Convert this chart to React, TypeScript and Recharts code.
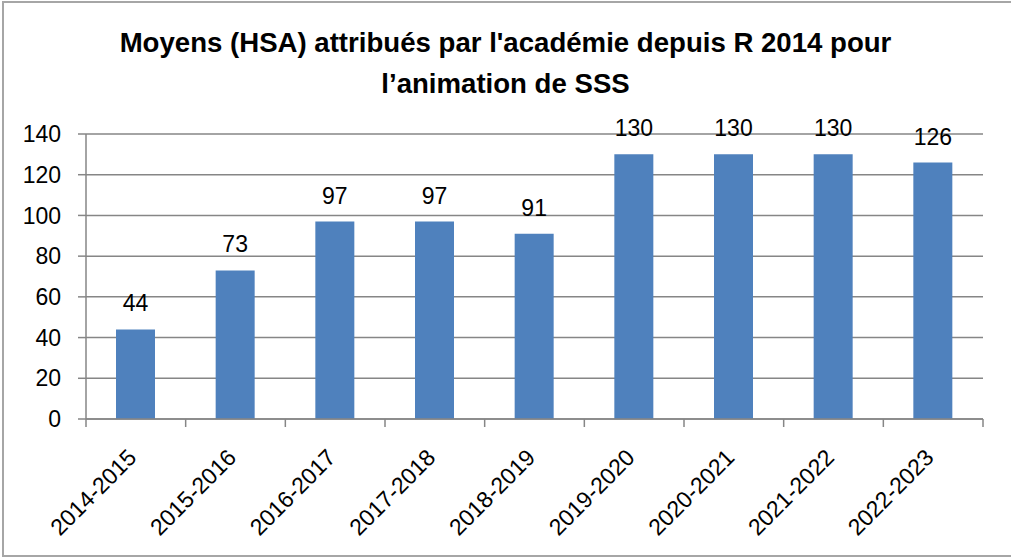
import React from "react";
import { BarChart, Bar, XAxis, YAxis, CartesianGrid, LabelList } from "recharts";

const categories = ["2014-2015", "2015-2016", "2016-2017", "2017-2018", "2018-2019", "2019-2020", "2020-2021", "2021-2022", "2022-2023"];
const values = [44, 73, 97, 97, 91, 130, 130, 130, 126];
const yTicks = [0, 20, 40, 60, 80, 100, 120, 140];
const titleLines = ["Moyens (HSA) attribués par l'académie depuis R 2014 pour", "l’animation de SSS"];

const data = categories.map((c, i) => ({ cat: c, value: values[i] }));

const FONT = "'Liberation Sans', Arial, sans-serif";
const GRAY = "#868686";

const XTick = (props: any) => {
  const { x, y, payload, index, visibleTicksCount } = props;
  const half = payload && typeof payload.offset === "number" && payload.offset > 0 ? payload.offset : 49.8;
  const ax = x + 2;
  const ay = y + 40;
  const isLast = index === (visibleTicksCount ?? categories.length) - 1;
  return (
    <g>
      <line x1={x - half} x2={x - half} y1={y} y2={y + 8} stroke={GRAY} strokeWidth={1.5} />
      {isLast && <line x1={x + half} x2={x + half} y1={y} y2={y + 8} stroke={GRAY} strokeWidth={1.5} />}
      <text
        x={ax}
        y={ay}
        transform={`rotate(-45, ${ax}, ${ay})`}
        textAnchor="end"
        fontFamily={FONT}
        fontSize={23}
        fill="#000"
      >
        {payload.value}
      </text>
    </g>
  );
};

export default function App() {
  return (
    <div style={{ position: "relative", width: 1011, height: 558, background: "#fff", overflow: "hidden" }}>
      <style>{"body{margin:0}"}</style>
      <div
        style={{
          position: "absolute",
          left: 2,
          top: 1,
          width: 1020,
          height: 556,
          border: "2px solid #a6a6a6",
          boxSizing: "border-box",
        }}
      />
      <BarChart
        width={1011}
        height={558}
        data={data}
        margin={{ top: 134, right: 28, left: 0, bottom: 0 }}
        barSize={39}
      >
        <CartesianGrid horizontal={true} vertical={false} stroke={GRAY} strokeWidth={1.5} />
        <XAxis
          dataKey="cat"
          interval={0}
          tickLine={false}
          axisLine={{ stroke: GRAY, strokeWidth: 1.5 }}
          tickSize={0}
          tickMargin={0}
          height={139}
          tick={<XTick />}
        />
        <YAxis
          width={86}
          domain={[0, 140]}
          ticks={yTicks}
          interval={0}
          tickSize={8}
          tickMargin={17}
          tickLine={{ stroke: GRAY, strokeWidth: 1.5 }}
          axisLine={{ stroke: GRAY, strokeWidth: 1.5 }}
          tick={{ fill: "#000", fontSize: 23, fontFamily: FONT }}
        />
        <Bar dataKey="value" fill="#4F81BD" isAnimationActive={false}>
          <LabelList dataKey="value" position="top" offset={18} fill="#000" fontSize={23} fontFamily={FONT} />
        </Bar>
      </BarChart>
      <div
        style={{
          position: "absolute",
          left: 0,
          top: 22,
          width: 1011,
          textAlign: "center",
          fontFamily: FONT,
          fontWeight: "bold",
          fontSize: 27.6,
          lineHeight: "41px",
          color: "#000",
        }}
      >
        <div>{titleLines[0]}</div>
        <div>{titleLines[1]}</div>
      </div>
    </div>
  );
}
